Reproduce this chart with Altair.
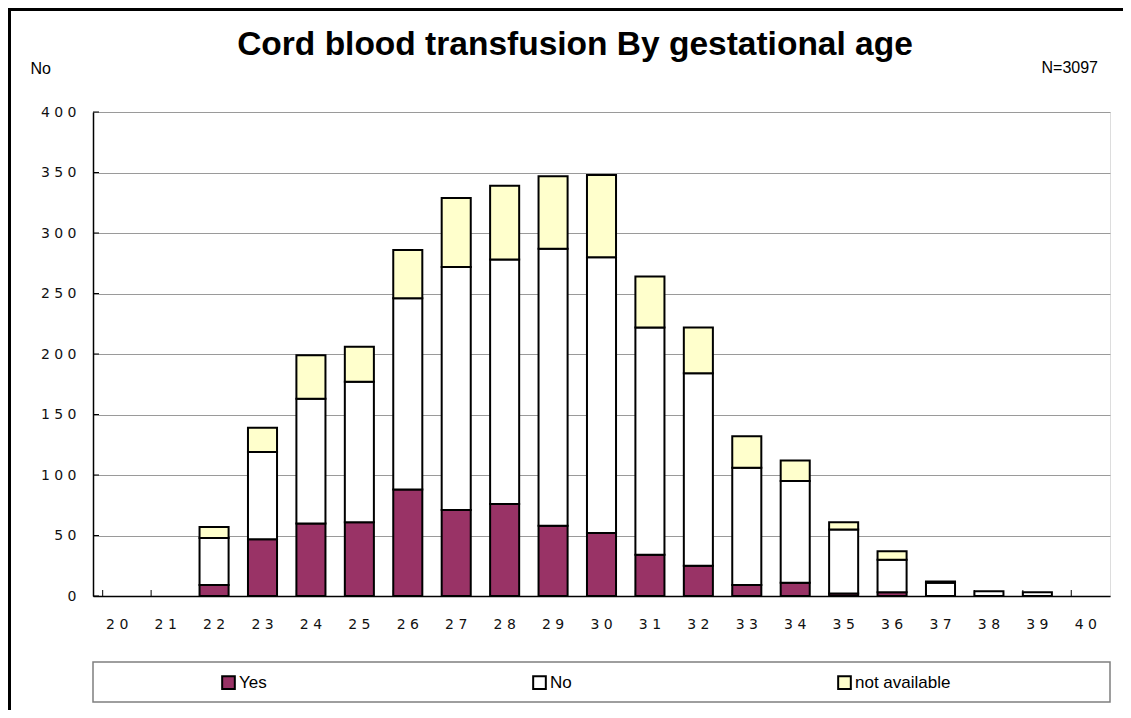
import altair as alt
import pandas as pd

ages = list(range(20, 41))
yes_vals = [0, 0, 9, 47, 60, 61, 88, 71, 76, 58, 52, 34, 25, 9, 11, 2, 3, 0, 0, 0, 0]
no_vals = [0, 0, 39, 72, 103, 116, 158, 201, 202, 229, 228, 188, 159, 97, 84, 53, 27, 11, 4, 3, 0]
na_vals = [0, 0, 9, 20, 36, 29, 40, 57, 61, 60, 68, 42, 38, 26, 17, 6, 7, 1, 0, 0, 0]
statuses = ["Yes", "No", "not available"]
colors = ["#993366", "#FFFFFF", "#FFFFCC"]
y_ticks = [0, 50, 100, 150, 200, 250, 300, 350, 400]
title_text = "Cord blood transfusion By gestational age"
n_text = "N=3097"

rows = []
for i, a in enumerate(ages):
    for k, (s, vals) in enumerate(zip(statuses, [yes_vals, no_vals, na_vals])):
        rows.append({"age": a, "status": s, "value": vals[i], "order": k})
df = pd.DataFrame(rows)

W, H = 1017, 484

xscale = alt.Scale(domain=ages, paddingInner=0.4, paddingOuter=0.2)
yscale = alt.Scale(domain=[0, 400], nice=False)

label_expr = "join(split(datum.label, ''), ' ')"

bars = alt.Chart(df).transform_filter("datum.value > 0").mark_bar(
    stroke="black", strokeWidth=2
).encode(
    x=alt.X("age:O", scale=xscale, sort=ages,
            axis=alt.Axis(title=None, labelAngle=0, tickSize=0, labelPadding=21,
                          labelFont="DejaVu Sans", labelFontSize=14, labelColor="#111",
                          labelExpr=label_expr, domainColor="#000", domainWidth=1.5,
                          grid=False)),
    y=alt.Y("value:Q", stack="zero", scale=yscale,
            axis=alt.Axis(values=y_ticks, title="No", titleAngle=0, titleX=-63, titleY=-44,
                          titleAlign="left", titleBaseline="middle", titleFont="Liberation Sans",
                          titleFontSize=16, titleFontWeight="normal", titleColor="#000",
                          tickSize=0, labelPadding=17, labelFont="DejaVu Sans",
                          labelFontSize=14, labelColor="#111", labelExpr=label_expr,
                          domainColor="#000", domainWidth=1.5, grid=True,
                          gridColor="#9a9a9a", gridWidth=1)),
    color=alt.Color("status:N", sort=statuses,
                    scale=alt.Scale(domain=statuses, range=colors),
                    legend=alt.Legend(title=None, orient="none", direction="horizontal",
                                      columns=3, legendX=127, legendY=562,
                                      symbolType="square", symbolSize=160,
                                      symbolStrokeColor="#000", symbolStrokeWidth=2,
                                      symbolOpacity=1, labelFont="Liberation Sans",
                                      labelFontSize=17, labelColor="#000",
                                      labelOffset=2, columnPadding=262)),
    order=alt.Order("order:Q"),
)

tick_df = pd.DataFrame({"age": ages})
x_ticks = alt.Chart(tick_df).mark_rule(color="#000", strokeWidth=1).encode(
    x=alt.X("age:O", scale=xscale, sort=ages, bandPosition=0),
    y=alt.value(H - 6), y2=alt.value(H),
)

ytick_df = pd.DataFrame({"t": y_ticks})
y_tick_marks = alt.Chart(ytick_df).mark_rule(color="#000", strokeWidth=1).encode(
    y=alt.Y("t:Q", scale=yscale),
    x=alt.value(0), x2=alt.value(6),
)

one = pd.DataFrame({"label": [n_text], "title": [title_text]})
n_label = alt.Chart(one).mark_text(
    align="right", baseline="middle", font="Liberation Sans", fontSize=16, color="#000"
).encode(text="label:N", x=alt.value(1005), y=alt.value(-44))

title_mark = alt.Chart(one).mark_text(
    align="center", baseline="alphabetic", font="Liberation Sans", fontSize=33.5,
    fontWeight="bold", color="#000"
).encode(text="title:N", x=alt.value(482), y=alt.value(-57))

legend_box = alt.Chart(one).mark_rect(fill="#FFFFFF", stroke="#7f7f7f", strokeWidth=1.5).encode(
    x=alt.value(0), x2=alt.value(W), y=alt.value(550), y2=alt.value(590)
)

border_left = alt.Chart(one).mark_rule(color="#000", strokeWidth=3).encode(
    x=alt.value(-83.5), y=alt.value(-104), y2=alt.value(600)
)
border_top = alt.Chart(one).mark_rule(color="#000", strokeWidth=3).encode(
    x=alt.value(-85), x2=alt.value(W + 15), y=alt.value(-102.5)
)

chart = alt.layer(
    legend_box, border_left, border_top, bars, x_ticks, y_tick_marks, n_label, title_mark
).properties(
    width=W, height=H,
    autosize=alt.AutoSizeParams(type="none"),
    padding={"left": 85, "top": 104, "right": 13, "bottom": 114},
).configure_view(
    stroke="#808080", strokeWidth=1.5
).configure(background="#FFFFFF")

chart.save("out.html", embed_options={"renderer": "svg", "actions": False})
